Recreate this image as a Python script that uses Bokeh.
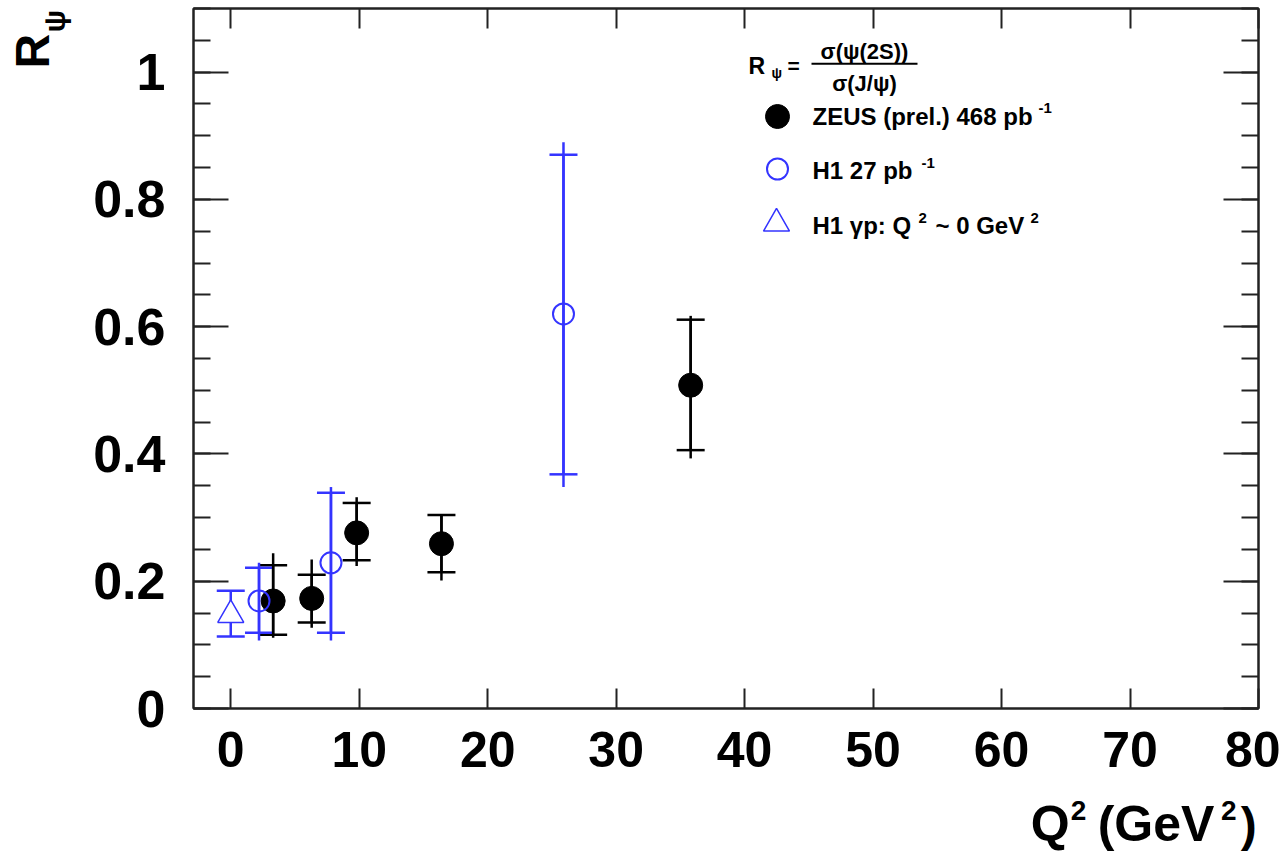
import math
from bokeh.plotting import figure
from bokeh.layouts import row, column
from bokeh.models import (Range1d, SingleIntervalTicker, LinearAxis, Whisker, TeeHead,
                          ColumnDataSource, Label, BoxAnnotation, CustomJSTickFormatter)
from bokeh.embed import file_html
from bokeh.resources import INLINE

# ---------------- data ----------------
zeus_q2      = [3.3, 6.3, 9.8, 16.4, 35.8]
zeus_r       = [0.169, 0.173, 0.276, 0.259, 0.508]
zeus_stat_hi = [0.225, 0.210, 0.323, 0.304, 0.611]
zeus_stat_lo = [0.116, 0.135, 0.233, 0.214, 0.406]
zeus_tot_hi  = [0.244, 0.234, 0.332, 0.304, 0.617]
zeus_tot_lo  = [0.111, 0.127, 0.224, 0.201, 0.393]

h1_q2        = [2.2, 7.8, 25.9]
h1_r         = [0.169, 0.229, 0.620]
h1_stat_hi   = [0.221, 0.339, 0.870]
h1_stat_lo   = [0.119, 0.119, 0.368]
h1_tot_hi    = [0.229, 0.348, 0.890]
h1_tot_lo    = [0.107, 0.107, 0.348]

gp_q2        = [0.0]
gp_r         = [0.147]
gp_hi        = [0.185]
gp_lo        = [0.113]

X_RANGE = (-2.9, 80)
Y_RANGE = (0, 1.1)
X_TICK_STEP = 10
Y_TICK_STEP = 0.2

BLUE = "#3434ff"
FONT = "Liberation Sans"
AX = "#222222"

# ---------------- layout (page pixels) ----------------
TOTAL_W, TOTAL_H = 1280, 852
YLAB_W = 88                       # left strip holding the y title
MAIN_W = TOTAL_W - YLAB_W
FRAME_L, FRAME_R, FRAME_T, FRAME_B = 193, 1258, 8, 708
MAIN_BB = 86
MAIN_H = FRAME_B + MAIN_BB
XLAB_H = TOTAL_H - MAIN_H

# Bokeh's alphabetic baseline sits a bit below the requested point; compensate
BASE_FIX = 0.29
ROT_FIX = 0.43


def lx(px):
    return X_RANGE[0] + (px - FRAME_L) / (FRAME_R - FRAME_L) * (X_RANGE[1] - X_RANGE[0])


def ly(py):
    return Y_RANGE[0] + (FRAME_B - py) / (FRAME_B - FRAME_T) * (Y_RANGE[1] - Y_RANGE[0])


p = figure(width=MAIN_W, height=MAIN_H, x_range=Range1d(*X_RANGE), y_range=Range1d(*Y_RANGE),
           output_backend="svg", toolbar_location=None,
           min_border_left=FRAME_L - YLAB_W, min_border_right=TOTAL_W - FRAME_R,
           min_border_top=FRAME_T, min_border_bottom=MAIN_BB,
           x_axis_location=None, y_axis_location=None)
p.grid.visible = False
p.background_fill_color = "white"
p.border_fill_color = "white"
p.outline_line_color = AX
p.outline_line_width = 2


def make_axis(ticker, label_size, tick_len, minor_len):
    ax = LinearAxis(ticker=ticker)
    ax.axis_line_color = AX
    ax.axis_line_width = 2
    ax.major_tick_in = tick_len
    ax.major_tick_out = 0
    ax.major_tick_line_color = AX
    ax.major_tick_line_width = 2
    ax.minor_tick_in = minor_len
    ax.minor_tick_out = 0
    ax.minor_tick_line_color = AX if minor_len > 0 else None
    ax.minor_tick_line_width = 2
    if label_size:
        ax.major_label_text_font = FONT
        ax.major_label_text_font_style = "bold"
        ax.major_label_text_font_size = f"{label_size}px"
        ax.major_label_text_color = "black"
        ax.formatter = CustomJSTickFormatter(code="return (Math.round(tick*10)/10).toString()")
    else:
        ax.major_label_text_font_size = "0px"
        ax.major_label_standoff = 0
        ax.formatter = CustomJSTickFormatter(code="return ''")
    return ax


xb = make_axis(SingleIntervalTicker(interval=X_TICK_STEP, num_minor_ticks=0), 50, 20, 0)
xb.major_label_standoff = 23
xt = make_axis(SingleIntervalTicker(interval=X_TICK_STEP, num_minor_ticks=0), 0, 20, 0)
yl = make_axis(SingleIntervalTicker(interval=Y_TICK_STEP, num_minor_ticks=4), 52, 35, 17)
yl.major_label_standoff = 28
yr = make_axis(SingleIntervalTicker(interval=Y_TICK_STEP, num_minor_ticks=4), 0, 35, 17)
p.add_layout(xb, "below")
p.add_layout(xt, "above")
p.add_layout(yl, "left")
p.add_layout(yr, "right")

# ---------------- data marks ----------------
src_z = ColumnDataSource(dict(x=zeus_q2, y=zeus_r, shi=zeus_stat_hi, slo=zeus_stat_lo,
                              thi=zeus_tot_hi, tlo=zeus_tot_lo))
src_h = ColumnDataSource(dict(x=h1_q2, y=h1_r, shi=h1_stat_hi, slo=h1_stat_lo,
                              thi=h1_tot_hi, tlo=h1_tot_lo))
src_g = ColumnDataSource(dict(x=gp_q2, y=gp_r, shi=gp_hi, slo=gp_lo))

LW = 2.5
CAP = 28


def whisker(src, color):
    w = Whisker(base="x", upper="shi", lower="slo", source=src, dimension="height",
                line_color=color, line_width=LW,
                upper_head=TeeHead(size=CAP, line_color=color, line_width=LW),
                lower_head=TeeHead(size=CAP, line_color=color, line_width=LW),
                level="underlay")
    p.add_layout(w)


# ZEUS
p.segment(x0="x", y0="tlo", x1="x", y1="thi", source=src_z, line_color="black", line_width=LW)
whisker(src_z, "black")
p.scatter("x", "y", source=src_z, marker="circle", size=24, fill_color="black", line_color="black")

# H1 DIS
p.segment(x0="x", y0="tlo", x1="x", y1="thi", source=src_h, line_color=BLUE, line_width=LW)
whisker(src_h, BLUE)
p.scatter("x", "y", source=src_h, marker="circle", size=21, fill_color=None,
          line_color=BLUE, line_width=2)

# H1 photoproduction
whisker(src_g, BLUE)
p.scatter("x", "y", source=src_g, marker="triangle", size=26, fill_color="white",
          line_color=BLUE, line_width=1.5)

# ---------------- legend (ROOT style, drawn by hand) ----------------
p.scatter(x=[lx(777)], y=[ly(116)], marker="circle", size=24, fill_color="black", line_color="black")
p.scatter(x=[lx(777)], y=[ly(168.5)], marker="circle", size=21, fill_color=None,
          line_color=BLUE, line_width=2)
p.scatter(x=[lx(776)], y=[ly(223)], marker="triangle", size=26, fill_color="white",
          line_color=BLUE, line_width=1.5)


def lab(fig, text, x, y, size, angle=0.0, align="left", units="data"):
    fig.add_layout(Label(x=x, y=y, x_units=units, y_units=units, text=text, text_font=FONT,
                         text_font_style="bold", text_font_size=f"{size}px", angle=angle,
                         text_align=align, text_baseline="alphabetic", text_color="black"))


def plab(text, px, py, size, **kw):
    # px, py: page position of the text baseline start
    lab(p, text, lx(px), ly(py - BASE_FIX * size), size, **kw)


LF = 24
plab("ZEUS (prel.) 468 pb", 812, 123, LF)
plab("-1", 1038, 112, 15)
plab("H1 27 pb", 812, 177, LF)
plab("-1", 921, 167, 15)
plab("H1 γp: Q", 812, 232, LF)
plab("2", 918, 222, 15)
plab("~ 0 GeV", 935, 232, LF)
plab("2", 1030, 222, 15)

# ratio definition
plab("R", 748, 72, 23)
plab("ψ", 771, 77, 14)
plab("=", 787, 71, 21)
plab("σ(ψ(2S))", 864, 57, 22, align="center")
plab("σ(J/ψ)", 864, 89, 22, align="center")
p.add_layout(BoxAnnotation(left=lx(811), right=lx(917), top=ly(62.3), bottom=ly(64.3),
                           fill_color="black", fill_alpha=1.0, line_color=None))


# ---------------- axis titles in side strips ----------------
def blank(w, h):
    f = figure(width=w, height=h, x_range=Range1d(0, w), y_range=Range1d(0, h),
               output_backend="svg", toolbar_location=None,
               min_border_left=0, min_border_right=0, min_border_top=0, min_border_bottom=0,
               x_axis_location=None, y_axis_location=None)
    f.grid.visible = False
    f.outline_line_color = None
    f.background_fill_color = "white"
    f.border_fill_color = "white"
    return f


# x title strip: page x from YLAB_W, page y from MAIN_H
fx = blank(MAIN_W, XLAB_H)


def xlab(text, px, py, size):
    lab(fx, text, px - YLAB_W, MAIN_H + XLAB_H - (py - BASE_FIX * size), size)


xlab("Q", 1025, 838, 50)
xlab("2", 1070, 818, 28)
xlab("(GeV", 1100, 838, 50)
xlab("2", 1238, 818, 28)
xlab(")", 1260, 838, 48)

# y title strip: page x from 0, page y from 0 (text reads bottom to top)
fy = blank(YLAB_W, TOTAL_H)


def ylab(text, px, py, size):
    lab(fy, text, px - ROT_FIX * size, TOTAL_H - py, size, angle=math.pi / 2)


ylab("R", 53, 68, 48)
ylab("ψ", 67, 32, 30)

layout = row(fy, column(p, fx, spacing=0), spacing=0)

open("out.html", "w").write(file_html(layout, INLINE))
